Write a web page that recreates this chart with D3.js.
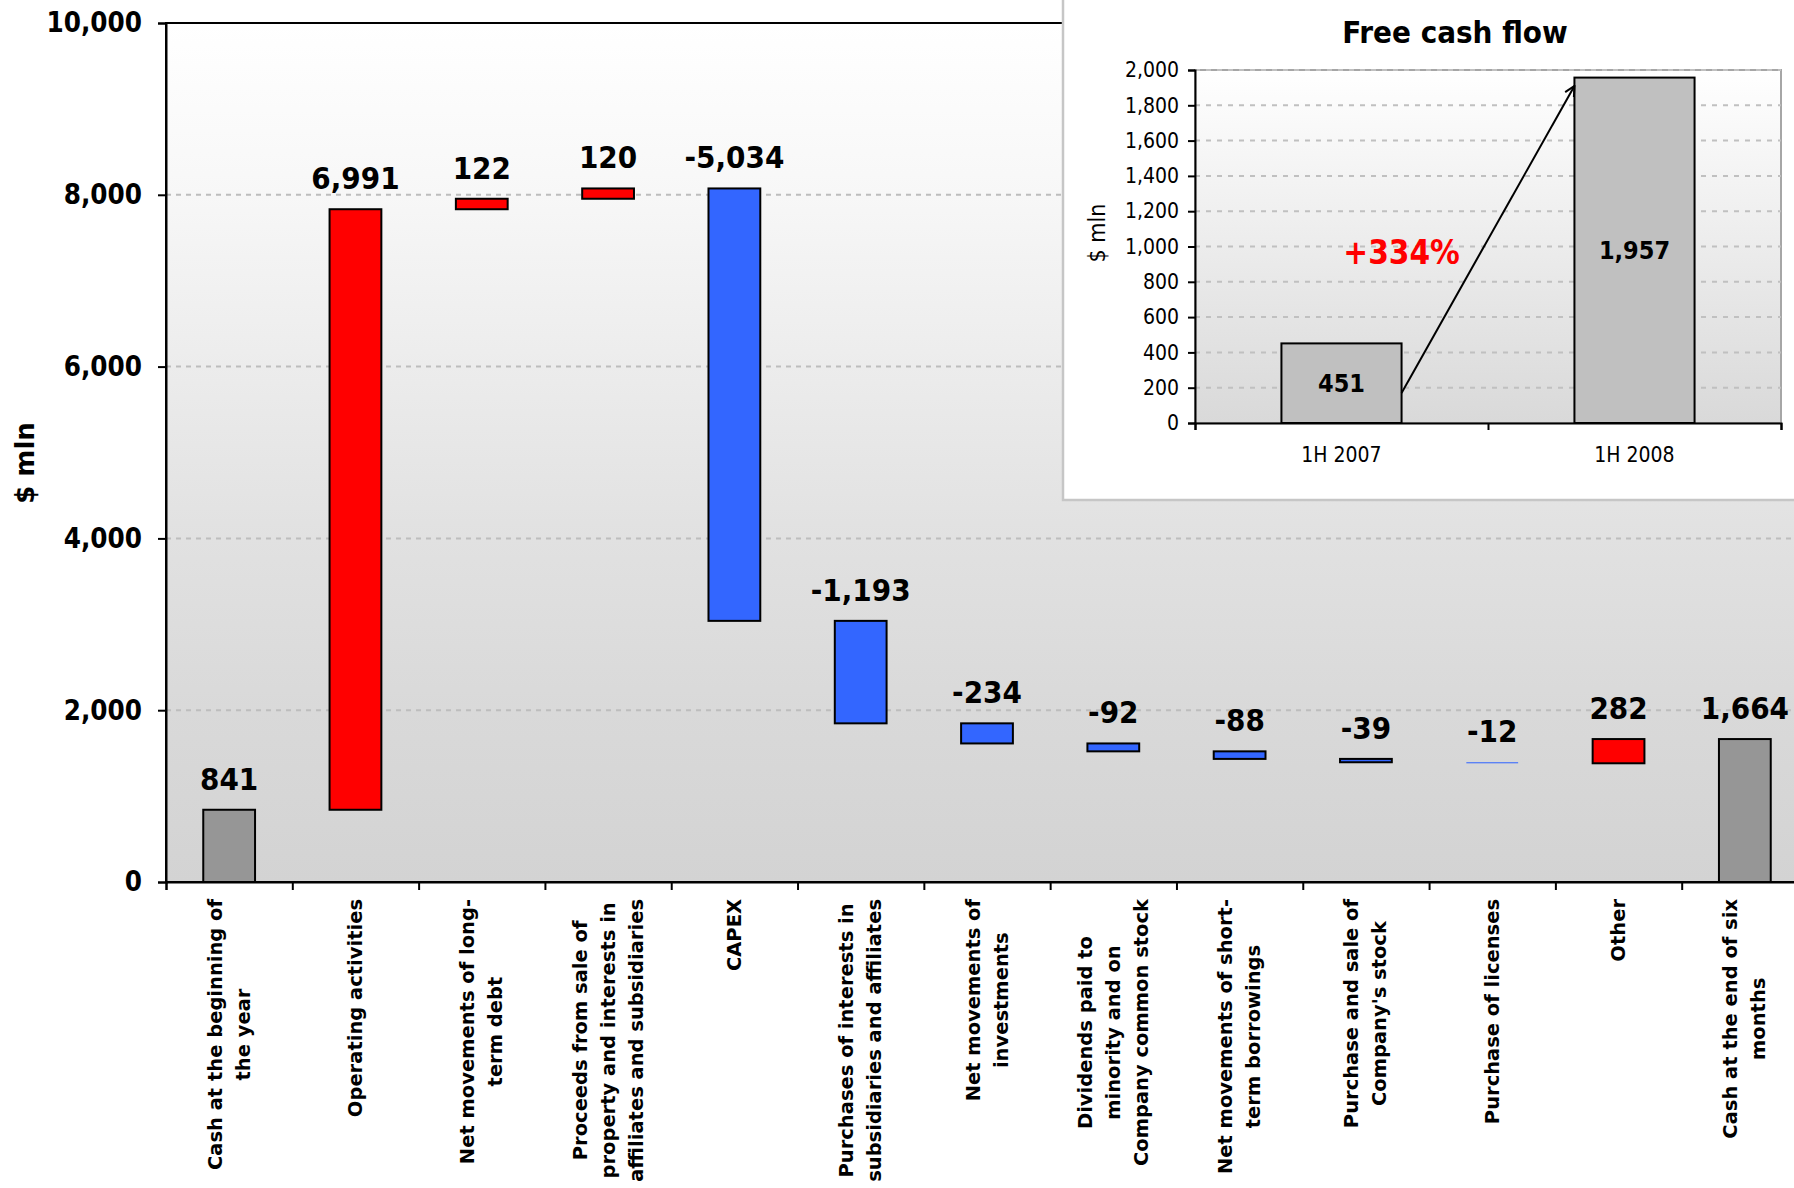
<!DOCTYPE html>
<html>
<head>
<meta charset="utf-8">
<script src="https://cdn.jsdelivr.net/npm/d3@7/dist/d3.min.js"></script>
<style>
  html, body { margin: 0; padding: 0; background: #ffffff; }
  svg { display: block; }
</style>
</head>
<body>
<svg id="chart" width="1794" height="1188"></svg>
<script>
// ---- Cash flow bridge, 1H 2008 ($ mln) ----
const categories = [
  "Cash at the beginning of\nthe year",
  "Operating activities",
  "Net movements of long-\nterm debt",
  "Proceeds from sale of\nproperty and interests in\naffiliates and subsidiaries",
  "CAPEX",
  "Purchases of interests in\nsubsidiaries and affiliates",
  "Net movements of\ninvestments",
  "Dividends paid to\nminority and on\nCompany common stock",
  "Net movements of short-\nterm borrowings",
  "Purchase and sale of\nCompany's stock",
  "Purchase of licenses",
  "Other",
  "Cash at the end of six\nmonths"
];
const flowValues = [841, 6991, 122, 120, -5034, -1193, -234, -92, -88, -39, -12, 282, 1664];
const isBalance = [true, false, false, false, false, false, false, false, false, false, false, false, true];
const yTickValues = [0, 2000, 4000, 6000, 8000, 10000];

// ---- Free cash flow inset ----
const fcfPeriods = ["1H 2007", "1H 2008"];
const fcfValues = [451, 1957];
const fcfTickValues = [0, 200, 400, 600, 800, 1000, 1200, 1400, 1600, 1800, 2000];
const fcfGrowthLabel = "+334%";
const fcfArrowFrom = 170;   // arrow tail, $ mln level on the 1H 2007 side
const fcfArrowTo = 1910;    // arrow head, $ mln level on the 1H 2008 side
const fcfGrowthLevel = 900; // baseline level of the growth label

const COND = "'DejaVu Sans Condensed', 'DejaVu Sans', sans-serif";
const WIDE = "'DejaVu Sans', Verdana, sans-serif";
const comma = d3.format(",");
const fmt = v => comma(v).replace("\u2212", "-");

const svg = d3.select("#chart");
const defs = svg.append("defs");

// ---------- main waterfall ----------
const plot = { left: 166, top: 23, right: 1808, bottom: 882 };

const x = d3.scaleBand()
  .domain(d3.range(categories.length))
  .range([plot.left, plot.right])
  .paddingInner(0.59)
  .paddingOuter(0.295);
const xBoundary = d3.scaleLinear().domain([0, categories.length]).range([plot.left, plot.right]);
const y = d3.scaleLinear().domain([0, 10000]).range([plot.bottom, plot.top]);

// running totals -> floating segments
let running = 0;
const segments = flowValues.map((v, i) => {
  let lo, hi, kind;
  if (isBalance[i]) {
    lo = 0; hi = v; running = v; kind = "balance";
  } else {
    const start = running;
    running += v;
    lo = Math.min(start, running); hi = Math.max(start, running);
    kind = v >= 0 ? "up" : "down";
  }
  return { i, v, lo, hi, kind };
});

const mainGrad = defs.append("linearGradient")
  .attr("id", "mainBg").attr("x1", 0).attr("y1", 0).attr("x2", 0).attr("y2", 1);
[[0, "#ffffff"], [0.2, "#f7f7f7"], [0.4, "#ececec"], [0.6, "#e1e1e1"], [0.8, "#d9d9d9"], [1, "#d3d3d3"]]
  .forEach(([o, c]) => mainGrad.append("stop").attr("offset", o).attr("stop-color", c));

svg.append("rect")
  .attr("x", plot.left).attr("y", plot.top)
  .attr("width", plot.right - plot.left).attr("height", plot.bottom - plot.top)
  .attr("fill", "url(#mainBg)");

// dashed gridlines
svg.append("g").selectAll("line")
  .data(yTickValues.filter(d => d > 0 && d < 10000))
  .join("line")
  .attr("x1", plot.left).attr("x2", plot.right)
  .attr("y1", d => y(d)).attr("y2", d => y(d))
  .attr("stroke", "#bdbdbd").attr("stroke-width", 2)
  .attr("stroke-dasharray", "5,5");

// plot frame
svg.append("rect")
  .attr("x", plot.left).attr("y", plot.top)
  .attr("width", plot.right - plot.left).attr("height", plot.bottom - plot.top)
  .attr("fill", "none").attr("stroke", "#000").attr("stroke-width", 2);

// bars
const fillFor = { balance: "#969696", up: "#ff0000", down: "#3366ff" };
svg.append("g").selectAll("rect")
  .data(segments)
  .join("rect")
  .attr("x", d => x(d.i))
  .attr("width", x.bandwidth())
  .attr("y", d => y(d.hi))
  .attr("height", d => y(d.lo) - y(d.hi))
  .attr("fill", d => fillFor[d.kind])
  .attr("stroke", d => (y(d.lo) - y(d.hi)) > 3 ? "#000" : "none")
  .attr("stroke-width", 2);

// value labels
svg.append("g").selectAll("text")
  .data(segments)
  .join("text")
  .attr("x", d => x(d.i) + x.bandwidth() / 2)
  .attr("y", d => y(d.hi) - 20)
  .attr("text-anchor", "middle")
  .attr("font-family", COND).attr("font-stretch", "condensed")
  .attr("font-weight", "bold").attr("font-size", 31)
  .attr("fill", "#000")
  .text(d => fmt(d.v));

// y axis
const yAxis = svg.append("g")
  .attr("transform", `translate(${plot.left},0)`)
  .call(d3.axisLeft(y).tickValues(yTickValues).tickFormat(fmt).tickSize(8).tickPadding(16));
yAxis.select(".domain").attr("stroke", "#000").attr("stroke-width", 2);
yAxis.selectAll(".tick line").attr("stroke", "#000").attr("stroke-width", 2);
yAxis.selectAll(".tick text")
  .attr("font-family", COND).attr("font-stretch", "condensed")
  .attr("font-weight", "bold").attr("font-size", 27.5).attr("fill", "#000");

// x axis line with ticks at category boundaries
const xAxis = svg.append("g")
  .attr("transform", `translate(0,${plot.bottom})`)
  .call(d3.axisBottom(xBoundary).tickValues(d3.range(categories.length + 1)).tickFormat("").tickSize(8));
xAxis.select(".domain").attr("stroke", "#000").attr("stroke-width", 2);
xAxis.selectAll(".tick line").attr("stroke", "#000").attr("stroke-width", 2);

// rotated category labels, block top-aligned under the axis, lines centred within the block
const lineGap = 28;
const catGroups = svg.append("g").selectAll("g")
  .data(categories)
  .join("g")
  .attr("transform", (d, i) => `translate(${x(i) + x.bandwidth() / 2},899) rotate(-90)`);
catGroups.each(function (label) {
  const g = d3.select(this);
  const lines = label.split("\n");
  const texts = lines.map((ln, k) => g.append("text")
    .attr("font-family", WIDE).attr("font-weight", "bold").attr("font-size", 19.5)
    .attr("fill", "#000")
    .attr("text-anchor", "middle")
    .attr("dominant-baseline", "central")
    .attr("y", (k - (lines.length - 1) / 2) * lineGap)
    .text(ln));
  const maxW = d3.max(texts, t => t.node().getComputedTextLength());
  texts.forEach(t => t.attr("x", -maxW / 2));
});

// y axis title
svg.append("text")
  .attr("transform", `translate(25,463) rotate(-90)`)
  .attr("text-anchor", "middle").attr("dominant-baseline", "central")
  .attr("font-family", WIDE).attr("font-weight", "bold").attr("font-size", 26)
  .attr("fill", "#000")
  .text("$ mln");

// ---------- inset: free cash flow ----------
svg.append("rect")
  .attr("x", 1063).attr("y", -10).attr("width", 800).attr("height", 510)
  .attr("fill", "#ffffff").attr("stroke", "#c6c6c6").attr("stroke-width", 2.5);

const ip = { left: 1195, top: 70, right: 1781, bottom: 423 };
const ix = d3.scaleBand().domain(fcfPeriods).range([ip.left, ip.right]).paddingInner(0.59).paddingOuter(0.295);
const ixBoundary = d3.scaleLinear().domain([0, fcfPeriods.length]).range([ip.left, ip.right]);
const iy = d3.scaleLinear().domain([0, 2000]).range([ip.bottom, ip.top]);

const insetGrad = defs.append("linearGradient")
  .attr("id", "insetBg").attr("x1", 0).attr("y1", 0).attr("x2", 0).attr("y2", 1);
[[0, "#ffffff"], [0.5, "#ececec"], [1, "#d9d9d9"]]
  .forEach(([o, c]) => insetGrad.append("stop").attr("offset", o).attr("stop-color", c));

svg.append("rect")
  .attr("x", ip.left).attr("y", ip.top)
  .attr("width", ip.right - ip.left).attr("height", ip.bottom - ip.top)
  .attr("fill", "url(#insetBg)").attr("stroke", "#a6a6a6").attr("stroke-width", 2);

svg.append("g").selectAll("line")
  .data(fcfTickValues.filter(d => d > 0))
  .join("line")
  .attr("x1", ip.left).attr("x2", ip.right)
  .attr("y1", d => iy(d)).attr("y2", d => iy(d))
  .attr("stroke", "#c0c0c0").attr("stroke-width", 2)
  .attr("stroke-dasharray", "5,6");

svg.append("g").selectAll("rect")
  .data(fcfValues)
  .join("rect")
  .attr("x", (d, i) => ix(fcfPeriods[i]))
  .attr("width", ix.bandwidth())
  .attr("y", d => iy(d))
  .attr("height", d => iy(0) - iy(d))
  .attr("fill", "#c0c0c0").attr("stroke", "#000").attr("stroke-width", 2);

svg.append("g").selectAll("text")
  .data(fcfValues)
  .join("text")
  .attr("x", (d, i) => ix(fcfPeriods[i]) + ix.bandwidth() / 2)
  .attr("y", d => (iy(d) + iy(0)) / 2)
  .attr("text-anchor", "middle").attr("dominant-baseline", "central")
  .attr("font-family", COND).attr("font-stretch", "condensed")
  .attr("font-weight", "bold").attr("font-size", 25).attr("fill", "#000")
  .text(d => fmt(d));

const iyAxis = svg.append("g")
  .attr("transform", `translate(${ip.left},0)`)
  .call(d3.axisLeft(iy).tickValues(fcfTickValues).tickFormat(fmt).tickSize(7).tickPadding(9));
iyAxis.select(".domain").attr("stroke", "#000").attr("stroke-width", 2);
iyAxis.selectAll(".tick line").attr("stroke", "#000").attr("stroke-width", 2);
iyAxis.selectAll(".tick text")
  .attr("font-family", COND).attr("font-stretch", "condensed")
  .attr("font-size", 21).attr("fill", "#000");

const ixAxis = svg.append("g")
  .attr("transform", `translate(0,${ip.bottom})`)
  .call(d3.axisBottom(ixBoundary).tickValues(d3.range(fcfPeriods.length + 1)).tickFormat("").tickSize(7));
ixAxis.select(".domain").attr("stroke", "#000").attr("stroke-width", 2);
ixAxis.selectAll(".tick line").attr("stroke", "#000").attr("stroke-width", 2);

svg.append("g").selectAll("text")
  .data(fcfPeriods)
  .join("text")
  .attr("x", d => ix(d) + ix.bandwidth() / 2)
  .attr("y", 462)
  .attr("text-anchor", "middle")
  .attr("font-family", COND).attr("font-stretch", "condensed")
  .attr("font-size", 21).attr("fill", "#000")
  .text(d => d);

svg.append("text")
  .attr("transform", `translate(1097,233) rotate(-90)`)
  .attr("text-anchor", "middle").attr("dominant-baseline", "central")
  .attr("font-family", COND).attr("font-stretch", "condensed")
  .attr("font-size", 23).attr("fill", "#000")
  .text("$ mln");

svg.append("text")
  .attr("x", (ip.left + ip.right) / 2 - 33).attr("y", 43)
  .attr("text-anchor", "middle")
  .attr("font-family", COND).attr("font-stretch", "condensed")
  .attr("font-weight", "bold").attr("font-size", 31).attr("fill", "#000")
  .text("Free cash flow");

// growth arrow
defs.append("marker")
  .attr("id", "openHead").attr("viewBox", "0 0 12 12")
  .attr("refX", 11).attr("refY", 6)
  .attr("markerWidth", 12).attr("markerHeight", 12)
  .attr("markerUnits", "userSpaceOnUse")
  .attr("orient", "auto")
  .append("path").attr("d", "M1,1 L11,6 L1,11")
  .attr("fill", "none").attr("stroke", "#000").attr("stroke-width", 2);

const arrowX1 = ix(fcfPeriods[0]) + ix.bandwidth();
const arrowX2 = ix(fcfPeriods[1]);
svg.append("line")
  .attr("x1", arrowX1).attr("y1", iy(fcfArrowFrom))
  .attr("x2", arrowX2).attr("y2", iy(fcfArrowTo))
  .attr("stroke", "#000").attr("stroke-width", 2)
  .attr("marker-end", "url(#openHead)");

svg.append("text")
  .attr("x", arrowX1).attr("y", iy(fcfGrowthLevel))
  .attr("text-anchor", "middle")
  .attr("font-family", COND).attr("font-stretch", "condensed")
  .attr("font-weight", "bold").attr("font-size", 33).attr("fill", "#ff0000")
  .text(fcfGrowthLabel);
</script>
</body>
</html>
